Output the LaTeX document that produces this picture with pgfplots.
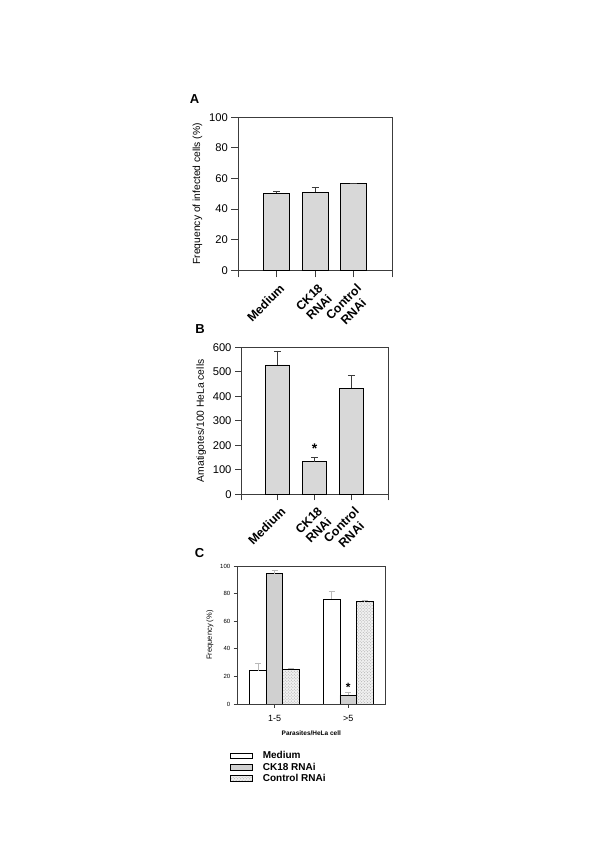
\documentclass[border=0pt]{standalone}
\usepackage{fontspec}
\setmainfont{Liberation Sans}
\usepackage{pgfplots}
\pgfplotsset{compat=1.18}
\usetikzlibrary{patterns}
\definecolor{barfill}{RGB}{216,216,216}
\definecolor{ckfill}{RGB}{208,208,208}
\definecolor{axgray}{RGB}{60,60,60}

\pgfplotsset{
  panel/.style={
    scale only axis,
    anchor=south west,
    axis line style={axgray, line width=0.8bp},
    every tick/.style={axgray, line width=0.8bp},
    tick align=outside,
    tick pos=left,
    /pgf/number format/assume math mode=true,
    ymin=0,
  },
  catlabels/.style={
    xticklabel style={font=\fontsize{12.3bp}{14bp}\selectfont\bfseries, rotate=45,
      anchor=north east, align=center, inner sep=0.5bp, xshift=-2bp, yshift=-5bp},
  },
}

\begin{document}
\begin{tikzpicture}
\path[use as bounding box] (0,0) rectangle (600bp,867bp);

% ---------- A ----------
\begin{axis}[panel, catlabels,
  at={(238.3bp,596.7bp)}, width=153.7bp, height=153bp,
  xmin=-1, xmax=3, ymax=100,
  ytick={0,20,40,60,80,100},
  xtick={-1,0,1,2,3},
  xticklabels={,Medium,CK18\\RNAi,Control\\RNAi,},
  major tick length=7bp,
  yticklabel style={font=\fontsize{11.2bp}{12bp}\selectfont},
  ylabel={Frequency of infected cells (\%)},
  ylabel style={font=\fontsize{10.3bp}{12bp}\selectfont},
  ybar, bar width=26bp,
]
\addplot[draw=black, fill=barfill, line width=0.7bp,
  error bars/.cd, y dir=plus, y explicit,
  error bar style={axgray, line width=0.7bp}, error mark options={rotate=90, mark size=3.5bp, axgray}]
  coordinates {(0,50.5) +- (0,1.0) (1,51) +- (0,3.0) (2,57) +- (0,0.2)};
\end{axis}
\node[font=\fontsize{13bp}{13bp}\selectfont\bfseries] at (194.5bp,767.5bp) {A};

% ---------- B ----------
\begin{axis}[panel, catlabels,
  at={(241bp,372.7bp)}, width=147.3bp, height=147bp,
  xmin=-1, xmax=3, ymax=600,
  ytick={0,100,200,300,400,500,600},
  xtick={-1,0,1,2,3},
  xticklabels={,Medium,CK18\\RNAi,Control\\RNAi,},
  major tick length=6bp,
  yticklabel style={font=\fontsize{11.2bp}{12bp}\selectfont},
  ylabel={Amatigotes/100 HeLa cells},
  ylabel style={font=\fontsize{10.3bp}{12bp}\selectfont},
  ybar, bar width=24bp,
]
\addplot[draw=black, fill=barfill, line width=0.7bp,
  error bars/.cd, y dir=plus, y explicit,
  error bar style={axgray, line width=0.7bp}, error mark options={rotate=90, mark size=3.5bp, axgray}]
  coordinates {(0,528) +- (0,58) (1,133) +- (0,18) (2,433) +- (0,53)};
\node[font=\fontsize{14bp}{14bp}\selectfont\bfseries] at (axis cs:1,185) {*};
\end{axis}
\node[font=\fontsize{13bp}{13bp}\selectfont\bfseries] at (200bp,538bp) {B};

% ---------- C ----------
\begin{axis}[panel,
  at={(237.7bp,163bp)}, width=147.3bp, height=138bp,
  xmin=-0.5, xmax=1.5, ymax=100,
  ytick={0,20,40,60,80,100},
  xtick={0,1},
  xticklabels={1-5,>5},
  major tick length=4bp,
  yticklabel style={font=\fontsize{6bp}{7bp}\selectfont},
  xticklabel style={font=\fontsize{9bp}{10bp}\selectfont, yshift=-4bp},
  xlabel={Parasites/HeLa cell},
  xlabel style={font=\fontsize{6.5bp}{8bp}\selectfont\bfseries, yshift=-2bp},
  ylabel={Frequency (\%)},
  ylabel style={font=\fontsize{7.5bp}{9bp}\selectfont},
  ybar=0pt, bar width=16.5bp,
  legend style={at={(-0.073,-0.315)}, anchor=north west, draw=none, fill=none,
    font=\fontsize{10bp}{10bp}\selectfont\bfseries, row sep=-1.5bp,
    /tikz/every odd column/.append style={column sep=8bp}},
  legend cell align=left,
  legend image code/.code={\draw[#1, line width=0.7bp] (0bp,-2.8bp) rectangle (22bp,2.8bp);},
  error bars/error bar style={gray!55, line width=0.7bp},
  error bars/error mark options={rotate=90, mark size=3bp, gray!55},
]
\addplot[draw=black, fill=white, line width=0.7bp,
  error bars/.cd, y dir=plus, y explicit]
  coordinates {(0,24.1) +- (0,5.8) (1,76.1) +- (0,5.9)};
\addplot[draw=black, fill=ckfill, line width=0.7bp,
  error bars/.cd, y dir=plus, y explicit]
  coordinates {(0,94.5) +- (0,2.4) (1,6.3) +- (0,2.1)};
\addplot[draw=black, fill=gray!12, postaction={pattern=crosshatch dots, pattern color=gray!70}, line width=0.7bp,
  error bars/.cd, y dir=plus, y explicit]
  coordinates {(0,25.3) +- (0,0.7) (1,74.2) +- (0,1.2)};
\legend{Medium, CK18 RNAi, Control RNAi}
\node[font=\fontsize{12bp}{12bp}\selectfont\bfseries] at (axis cs:1.0,12) {*};
\end{axis}
\node[font=\fontsize{13bp}{13bp}\selectfont\bfseries] at (199.5bp,314bp) {C};
\end{tikzpicture}
\end{document}
